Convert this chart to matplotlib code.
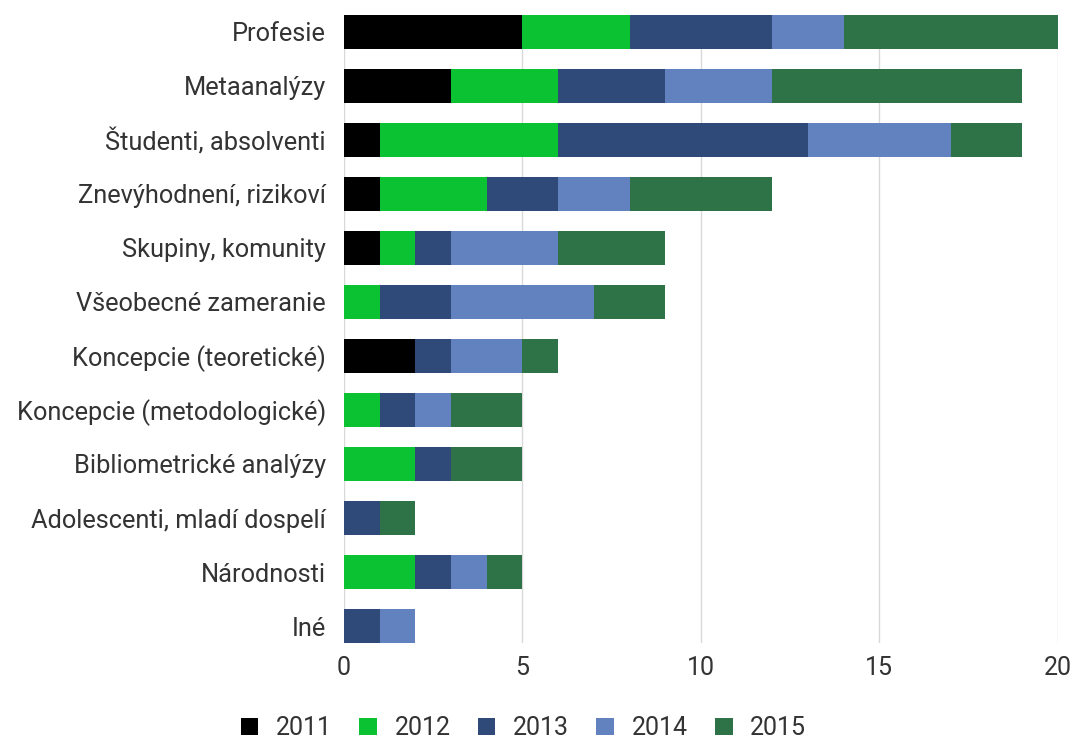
import matplotlib.pyplot as plt
import numpy as np

plt.rcParams['font.family'] = ['Roboto', 'DejaVu Sans']

categories = ['Profesie', 'Metaanalýzy', 'Študenti, absolventi', 'Znevýhodnení, rizikoví',
              'Skupiny, komunity', 'Všeobecné zameranie', 'Koncepcie (teoretické)',
              'Koncepcie (metodologické)', 'Bibliometrické analýzy',
              'Adolescenti, mladí dospelí', 'Národnosti', 'Iné']
years = ['2011', '2012', '2013', '2014', '2015']
y2011 = [5, 3, 1, 1, 1, 0, 2, 0, 0, 0, 0, 0]
y2012 = [3, 3, 5, 3, 1, 1, 0, 1, 2, 0, 2, 0]
y2013 = [4, 3, 7, 2, 1, 2, 1, 1, 1, 1, 1, 1]
y2014 = [2, 3, 4, 2, 3, 4, 2, 1, 0, 0, 1, 1]
y2015 = [6, 7, 2, 4, 3, 2, 1, 2, 2, 1, 1, 0]
colors = ['#000000', '#0bc232', '#2f4a78', '#6282bf', '#2e7248']

fig = plt.figure(figsize=(10.75, 7.4), dpi=100)
ax = fig.add_axes([0.32, 0.131, 0.664, 0.849])

pos = np.arange(len(categories))
left = np.zeros(len(categories))
bh = 0.63
for name, vals, c in zip(years, [y2011, y2012, y2013, y2014, y2015], colors):
    ax.barh(pos, vals, bh, left=left, color=c, label=name, zorder=2)
    left += np.array(vals)

ax.set_yticks(pos)
ax.set_yticklabels(categories, fontsize=18.3, color='#333333')
ax.set_ylim(len(categories) - 1 + bh / 2, -bh / 2)
ax.set_xlim(0, 20)
ax.set_xticks([0, 5, 10, 15, 20])
ax.tick_params(axis='x', labelsize=18, labelcolor='#333333', length=0, pad=9)
ax.tick_params(axis='y', length=0, pad=13)
ax.grid(axis='x', color='#d9d9d9', linewidth=1, zorder=0)
for s in ax.spines.values():
    s.set_visible(False)

fig.legend(loc='center', bbox_to_anchor=(0.487, 0.016), ncol=5, frameon=False,
           fontsize=18, handlelength=0.7, handleheight=0.7, handletextpad=0.7,
           columnspacing=1.1, labelcolor='#333333')

fig.savefig('out.png', dpi=100)
